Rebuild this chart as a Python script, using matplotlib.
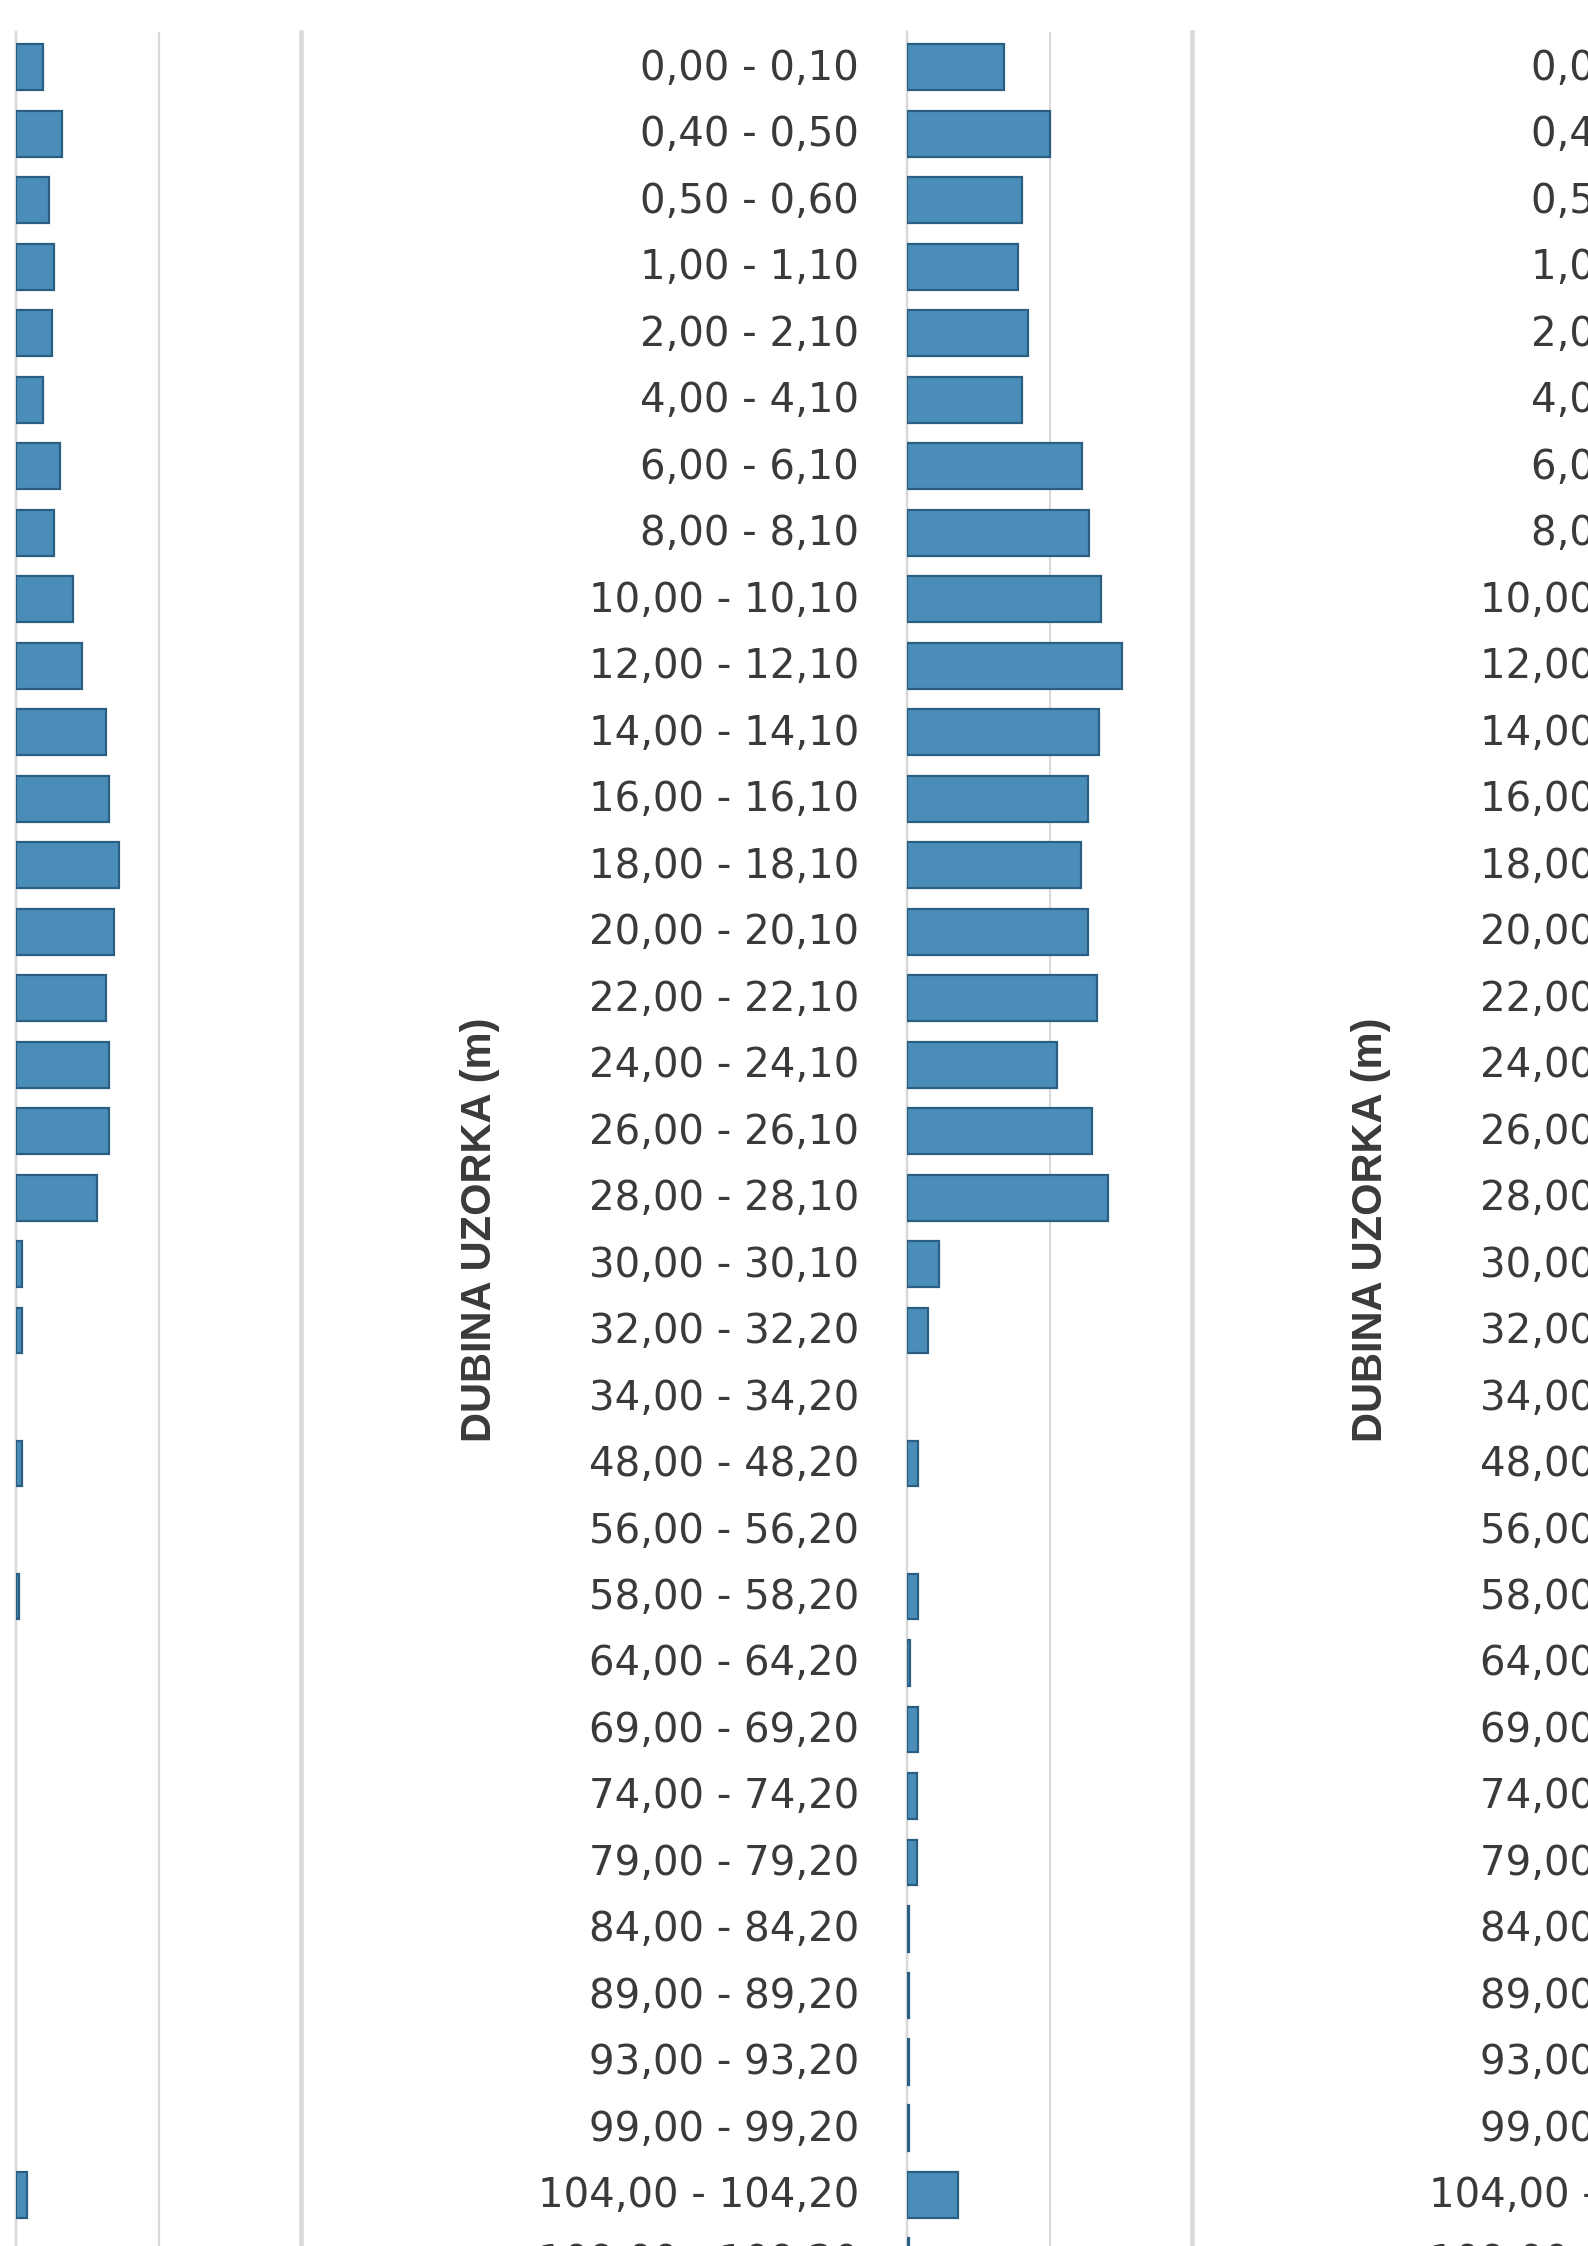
#!/usr/bin/env python
"""
Horizontal bar charts of sample depth intervals (DUBINA UZORKA),
three Excel-style panels placed side by side, as in the screenshot.
"""

import matplotlib
matplotlib.use("Agg")
import matplotlib.pyplot as plt
from matplotlib.transforms import ScaledTranslation

# Depth intervals (category labels, top to bottom)
DEPTHS = ["0,00 - 0,10", "0,40 - 0,50", "0,50 - 0,60", "1,00 - 1,10",
          "2,00 - 2,10", "4,00 - 4,10", "6,00 - 6,10", "8,00 - 8,10",
          "10,00 - 10,10", "12,00 - 12,10", "14,00 - 14,10", "16,00 - 16,10",
          "18,00 - 18,10", "20,00 - 20,10", "22,00 - 22,10", "24,00 - 24,10",
          "26,00 - 26,10", "28,00 - 28,10", "30,00 - 30,10", "32,00 - 32,20",
          "34,00 - 34,20", "48,00 - 48,20", "56,00 - 56,20", "58,00 - 58,20",
          "64,00 - 64,20", "69,00 - 69,20", "74,00 - 74,20", "79,00 - 79,20",
          "84,00 - 84,20", "89,00 - 89,20", "93,00 - 93,20", "99,00 - 99,20",
          "104,00 - 104,20", "109,00 - 109,20"]

# Bar values (one gridline = 1 unit)
LEFT_VALUES = [0.19, 0.32, 0.23, 0.27, 0.25, 0.19, 0.31, 0.27, 0.40, 0.46,
               0.63, 0.65, 0.72, 0.69, 0.63, 0.65, 0.65, 0.57, 0.04, 0.04,
               0.0, 0.04, 0.0, 0.02, 0.0, 0.0, 0.0, 0.0,
               0.0, 0.0, 0.0, 0.0, 0.08, 0.0]
MIDDLE_VALUES = [0.68, 1.00, 0.81, 0.78, 0.85, 0.81, 1.23, 1.28, 1.36, 1.51,
                 1.35, 1.27, 1.22, 1.27, 1.33, 1.05, 1.30, 1.41, 0.225, 0.15,
                 0.0, 0.076, 0.0, 0.076, 0.02, 0.076, 0.072, 0.072,
                 0.015, 0.015, 0.015, 0.015, 0.357, 0.015]

AXIS_TITLE = "DUBINA UZORKA (m)"

BAR_COLOR = "#4A8DB8"
EDGE_COLOR = "#2A5E82"
GRID_COLOR = "#D9D9D9"
TEXT_COLOR = "#3A3A3A"

W, H = 1588, 2246
PX = 72.0 / 100  # points per pixel at dpi 100


def panel(fig, left_px, values):
    """
    Draws one panel; left_px is the pixel position of the value axis.
    """
    top_px, bottom_px = 32, 2288
    ax = fig.add_axes([left_px / W, 1 - bottom_px / H,
                       285 / W, (bottom_px - top_px) / H])

    n = len(DEPTHS)
    if values is not None:
        # no outline for empty intervals
        widths = [2.2 * PX if v > 0 else 0 for v in values]
        ax.barh(range(n), values, height=0.69, color=BAR_COLOR,
                edgecolor=EDGE_COLOR, linewidth=widths, zorder=3)

    ax.set_xlim(0, 2)
    ax.set_ylim(33.4, -0.53)

    # Category labels, nudged up a few pixels like Excel draws them
    ax.set_yticks(range(n))
    ax.set_yticklabels(DEPTHS, fontsize=29, color=TEXT_COLOR)
    ax.tick_params(axis="y", length=0, pad=48 * PX)
    nudge = ScaledTranslation(0, 3 / 100, fig.dpi_scale_trans)
    for label in ax.get_yticklabels():
        label.set_transform(label.get_transform() + nudge)

    # Vertical gridlines, no value labels
    ax.set_xticks([0, 1, 2])
    ax.tick_params(axis="x", length=0, labelbottom=False)
    ax.grid(axis="x", color=GRID_COLOR, linewidth=2.2 * PX, zorder=0)

    for side in ["top", "bottom"]:
        ax.spines[side].set_visible(False)
    ax.spines["left"].set_color(GRID_COLOR)
    ax.spines["left"].set_linewidth(2.5 * PX)
    ax.spines["right"].set_color(GRID_COLOR)
    ax.spines["right"].set_linewidth(4.5 * PX)

    # Rotated axis title
    ax.text(-1.498, 0.469, AXIS_TITLE, transform=ax.transAxes, rotation=90,
            ha="center", va="center", fontsize=30, fontweight="bold",
            family=["Liberation Sans", "DejaVu Sans"], color=TEXT_COLOR,
            clip_on=False)
    return ax


if __name__ == "__main__":

    fig = plt.figure(figsize=(W / 100, H / 100), dpi=100)
    fig.patch.set_facecolor("white")

    # Left panel (labels off-screen), middle panel, right panel (bars off-screen)
    panel(fig, 907 - 891, LEFT_VALUES)
    panel(fig, 907, MIDDLE_VALUES)
    panel(fig, 907 + 891, None)

    fig.savefig("out.png", dpi=100)
